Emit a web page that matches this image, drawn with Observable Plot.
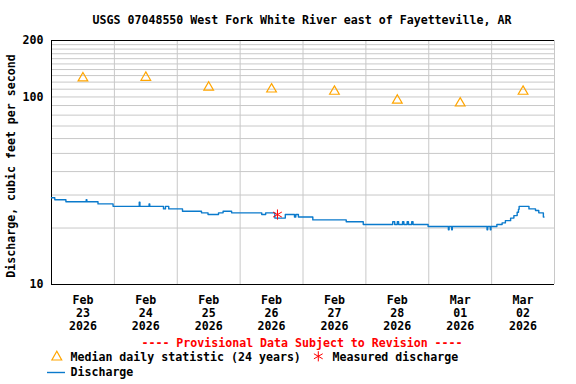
<!DOCTYPE html>
<html><head><meta charset="utf-8">
<script src="https://cdn.jsdelivr.net/npm/d3@7"></script>
<script src="https://cdn.jsdelivr.net/npm/@observablehq/plot@0.6"></script>
<style>
body{margin:0;background:#fff}
#wrap{position:relative;width:576px;height:384px}
#wrap svg{position:absolute;left:0;top:0;overflow:visible}
.t{font-family:"DejaVu Sans Mono",monospace;font-weight:bold;font-size:11.6px}
</style></head><body><div id="wrap"></div>
<script>
const titleText = "USGS 07048550 West Fork White River east of Fayetteville, AR";
const yLabel = "Discharge, cubic feet per second";
const provisionalText = "---- Provisional Data Subject to Revision ----";
const legendLabels = ["Median daily statistic (24 years)", "Measured discharge", "Discharge"];

const dayStarts = ["2026-02-23","2026-02-24","2026-02-25","2026-02-26","2026-02-27","2026-02-28","2026-03-01","2026-03-02","2026-03-03"];
const medianDates = ["2026-02-23T12:00","2026-02-24T12:00","2026-02-25T12:00","2026-02-26T12:00","2026-02-27T12:00","2026-02-28T12:00","2026-03-01T12:00","2026-03-02T12:00"];
const medianValues = [126, 127, 112.5, 110, 107, 96, 92.6, 107];
const measuredTime = ["2026-02-26T14:15"];
const measuredValue = [23.6];
const yTickValues = [10, 100, 200];
const yGridValues = [20,30,40,50,60,70,80,90,100,110,120,130,140,150,160,170,180,190];

const dischargeTime = [
"2026-02-23T00:00","2026-02-23T01:15","2026-02-23T05:30","2026-02-23T13:15","2026-02-23T13:30","2026-02-23T17:45","2026-02-23T23:30",
"2026-02-24T09:30","2026-02-24T09:45","2026-02-24T13:15","2026-02-24T13:30","2026-02-24T18:45","2026-02-24T19:30","2026-02-24T20:45",
"2026-02-25T02:00","2026-02-25T09:15","2026-02-25T11:45","2026-02-25T15:45","2026-02-25T17:30","2026-02-25T20:45",
"2026-02-26T08:15","2026-02-26T09:45","2026-02-26T13:15","2026-02-26T17:15","2026-02-26T20:45","2026-02-26T21:15","2026-02-26T22:15",
"2026-02-27T03:45","2026-02-27T16:30","2026-02-27T23:00",
"2026-02-28T10:15","2026-02-28T11:00","2026-02-28T12:00","2026-02-28T12:30","2026-02-28T14:00","2026-02-28T14:30","2026-02-28T15:45",
"2026-02-28T16:15","2026-02-28T17:30","2026-02-28T18:00","2026-02-28T20:00",
"2026-02-28T23:45",
"2026-03-01T07:30","2026-03-01T07:45","2026-03-01T08:45","2026-03-01T09:00","2026-03-01T22:15","2026-03-01T22:30","2026-03-01T23:30","2026-03-01T23:45",
"2026-03-02T02:00","2026-03-02T04:00","2026-03-02T05:15","2026-03-02T07:15","2026-03-02T08:30","2026-03-02T09:45","2026-03-02T10:15","2026-03-02T10:30",
"2026-03-02T14:15","2026-03-02T16:45","2026-03-02T18:00","2026-03-02T19:45","2026-03-02T20:00"
];
const dischargeValue = [
29.0,28.3,27.6,28.3,27.6,26.9,26.1,
27.5,26.1,26.9,26.1,25.3,26.1,25.3,
24.6,24.1,23.6,24.1,24.6,24.1,
23.6,24.1,22.6,23.6,22.9,23.6,22.9,
22.1,21.6,20.9,
21.6,20.9,21.6,20.9,21.6,20.9,21.6,
20.9,21.6,20.9,20.9,
20.4,
19.6,20.4,19.6,20.4,19.6,20.4,19.6,20.4,
20.9,21.3,21.9,22.6,23.3,24.3,25.2,26.1,
25.3,24.8,24.1,22.9,22.9
];

const parse = s => new Date(s + (s.length === 10 ? "T00:00Z" : "Z"));
const days = dayStarts.map(parse);
const discharge = dischargeTime.map((t, i) => ({t: parse(t), v: dischargeValue[i]}));
const median = medianDates.map((t, i) => ({t: parse(t), v: medianValues[i]}));
const measured = measuredTime.map((t, i) => ({t: parse(t), v: measuredValue[i]}));
const months = ["Jan","Feb","Mar","Apr","May","Jun","Jul","Aug","Sep","Oct","Nov","Dec"];
const fmt = d => `${months[d.getUTCMonth()]}\n${String(d.getUTCDate()).padStart(2,"0")}\n${d.getUTCFullYear()}`;

const FONT = '"DejaVu Sans Mono", monospace';
const LINE = "#0a7acc";

const plot = Plot.plot({
  width: 576, height: 384,
  marginLeft: 51, marginRight: 22, marginTop: 40, marginBottom: 100,
  style: {fontFamily: FONT, fontWeight: "bold", fontSize: "11.6px", color: "#000", background: "transparent"},
  x: {type: "utc", domain: [days[0], days[days.length - 1]]},
  y: {type: "log", domain: [10, 200]},
  marks: [
    Plot.ruleY(yGridValues, {stroke: "#c8c8c8", strokeWidth: 1}),
    Plot.ruleX(days.slice(1), {stroke: "#c8c8c8", strokeWidth: 1}),
    Plot.ruleY([10, 200], {stroke: "#000", strokeWidth: 1}),
    Plot.ruleX([days[0]], {stroke: "#000", strokeWidth: 1}),
    Plot.line(discharge, {x: "t", y: "v", curve: "step-after", stroke: LINE, strokeWidth: 1.4}),
    Plot.dot(median, {x: "t", y: "v", symbol: "triangle", r: 3.6, stroke: "#ffa500", strokeWidth: 1.2, fill: "none"}),
    Plot.dot(measured, {x: "t", y: "v", symbol: "asterisk", r: 4.8, stroke: "red", strokeWidth: 1}),
    Plot.axisY({ticks: yTickValues, tickSize: 0, tickPadding: 8, tickFormat: d => String(d), label: null}),
    Plot.axisX({ticks: median.map(d => d.t), tickSize: 0, tickPadding: 10, tickFormat: fmt, label: null, lineHeight: 1.12}),
    Plot.text([yLabel], {text: d => d, frameAnchor: "left", textAnchor: "middle", rotate: -90, dx: -40, dy: 3.5})
  ]
});
const wrap = document.getElementById("wrap");
wrap.appendChild(plot);

const ns = "http://www.w3.org/2000/svg";
const ov = document.createElementNS(ns, "svg");
ov.setAttribute("width", 576); ov.setAttribute("height", 384);
ov.setAttribute("class", "t");
const add = (tag, attrs, text) => {
  const el = document.createElementNS(ns, tag);
  for (const k in attrs) el.setAttribute(k, attrs[k]);
  if (text != null) el.textContent = text;
  ov.appendChild(el);
  return el;
};
add("text", {x: 302, y: 24, "text-anchor": "middle", fill: "#000"}, titleText);
add("text", {x: 302, y: 346.5, "text-anchor": "middle", fill: "#ff0000"}, provisionalText);
add("path", {d: "M56.8,351.2L51.9,360L61.7,360Z", fill: "none", stroke: "#ffa500", "stroke-width": 1.2});
add("text", {x: 70.5, y: 361, fill: "#000"}, legendLabels[0]);
const sym = d3.symbol(d3.symbolAsterisk, 4.8 * 4.8 * Math.PI)();
add("path", {d: sym, transform: "translate(318.3,356.3)", fill: "none", stroke: "red", "stroke-width": 1});
add("text", {x: 332.5, y: 361, fill: "#000"}, legendLabels[1]);
add("line", {x1: 47, x2: 65, y1: 372.5, y2: 372.5, stroke: LINE, "stroke-width": 1.4});
add("text", {x: 70.5, y: 376, fill: "#000"}, legendLabels[2]);
wrap.appendChild(ov);
</script></body></html>
